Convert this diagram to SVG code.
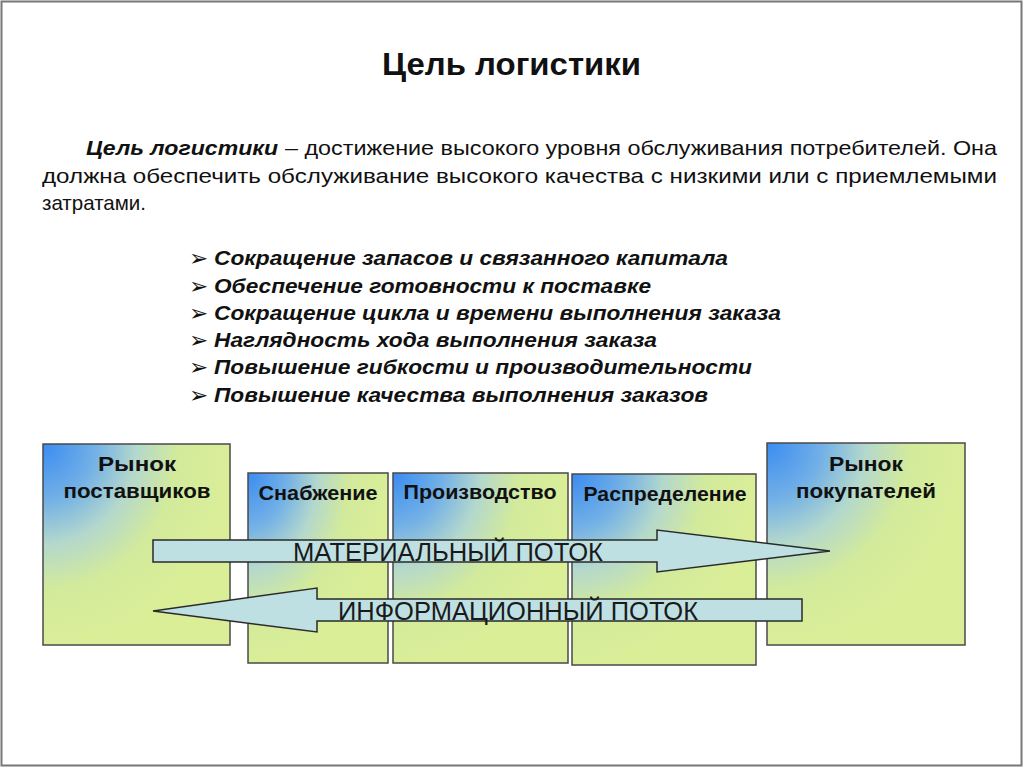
<svg xmlns="http://www.w3.org/2000/svg" width="1024" height="768" viewBox="0 0 1024 768">
<defs>
<radialGradient id="g" cx="0" cy="0" r="1" fx="0" fy="0" gradientUnits="objectBoundingBox">
<stop offset="0" stop-color="#3a8cf2"/>
<stop offset="0.28" stop-color="#72b0e6"/>
<stop offset="0.5" stop-color="#b4d8cc"/>
<stop offset="0.72" stop-color="#d2ea9c"/>
<stop offset="1" stop-color="#daee98"/>
</radialGradient>
<style>
.box{fill:url(#g);stroke:#4a4a4a;stroke-width:1.5}
.bl{font-family:"Liberation Sans",Arial,sans-serif;font-weight:bold;font-size:20.5px;fill:#111;text-anchor:middle}
.arr{fill:#bfe0e2;stroke:#2a2a2a;stroke-width:1.5;stroke-linejoin:miter}
.fl{font-family:"Liberation Sans",Arial,sans-serif;font-size:25px;fill:#1a1a1a}
.p{font-family:"Liberation Sans",Arial,sans-serif;font-size:21px;fill:#111}
.bu{font-family:"Liberation Sans",Arial,sans-serif;font-size:20px;font-weight:bold;font-style:italic;fill:#111}
.mk{font-family:"DejaVu Sans",sans-serif;font-size:23px;fill:#111}
</style>
</defs>
<rect x="1.5" y="1.5" width="1020" height="764" fill="#fff" stroke="#777" stroke-width="2"/>
<text x="382" y="75" font-family="'Liberation Sans',Arial,sans-serif" font-weight="bold" font-size="32" fill="#111" textLength="259" lengthAdjust="spacingAndGlyphs">Цель логистики</text>
<g id="paragraph">
<text class="p" x="86" y="155" font-weight="bold" font-style="italic" textLength="192" lengthAdjust="spacingAndGlyphs">Цель логистики</text>
<text class="p" x="285" y="155" textLength="712" lengthAdjust="spacingAndGlyphs">– достижение высокого уровня обслуживания потребителей. Она</text>
<text class="p" x="42" y="183" textLength="955" lengthAdjust="spacingAndGlyphs">должна обеспечить обслуживание высокого качества с низкими или с приемлемыми</text>
<text class="p" x="42" y="210" textLength="104" lengthAdjust="spacingAndGlyphs">затратами.</text>
</g>
<g id="bullets">
<text class="mk" x="189" y="266">➢</text>
<text class="bu" x="214" y="265" textLength="514" lengthAdjust="spacingAndGlyphs">Сокращение запасов и связанного капитала</text>
<text class="mk" x="189" y="294">➢</text>
<text class="bu" x="214" y="293" textLength="437" lengthAdjust="spacingAndGlyphs">Обеспечение готовности к поставке</text>
<text class="mk" x="189" y="321">➢</text>
<text class="bu" x="214" y="320" textLength="567" lengthAdjust="spacingAndGlyphs">Сокращение цикла и времени выполнения заказа</text>
<text class="mk" x="189" y="348">➢</text>
<text class="bu" x="214" y="347" textLength="443" lengthAdjust="spacingAndGlyphs">Наглядность хода выполнения заказа</text>
<text class="mk" x="189" y="375">➢</text>
<text class="bu" x="214" y="374" textLength="538" lengthAdjust="spacingAndGlyphs">Повышение гибкости и производительности</text>
<text class="mk" x="189" y="403">➢</text>
<text class="bu" x="214" y="402" textLength="494" lengthAdjust="spacingAndGlyphs">Повышение качества выполнения заказов</text>
</g>
<g id="supplier-market">
<rect class="box" x="43" y="444" width="187" height="201"/>
<text class="bl" x="137" y="471" textLength="78" lengthAdjust="spacingAndGlyphs">Рынок</text>
<text class="bl" x="137" y="498" textLength="147" lengthAdjust="spacingAndGlyphs">поставщиков</text>
</g>
<g id="supply">
<rect class="box" x="248" y="473" width="140" height="190"/>
<text class="bl" x="318" y="500" textLength="119" lengthAdjust="spacingAndGlyphs">Снабжение</text>
</g>
<g id="production">
<rect class="box" x="393" y="473" width="175" height="190"/>
<text class="bl" x="480" y="499" textLength="153" lengthAdjust="spacingAndGlyphs">Производство</text>
</g>
<g id="distribution">
<rect class="box" x="572" y="474" width="184" height="191"/>
<text class="bl" x="665" y="501" textLength="163" lengthAdjust="spacingAndGlyphs">Распределение</text>
</g>
<g id="customer-market">
<rect class="box" x="767" y="443" width="198" height="202"/>
<text class="bl" x="866" y="471" textLength="74" lengthAdjust="spacingAndGlyphs">Рынок</text>
<text class="bl" x="866" y="498" textLength="140" lengthAdjust="spacingAndGlyphs">покупателей</text>
</g>
<g id="connectors">
<g id="material-flow">
<polygon class="arr" points="153,540 657,540 657,530 830,551 657,572 657,562 153,562"/>
<text class="fl" x="293" y="561" textLength="310" lengthAdjust="spacingAndGlyphs">МАТЕРИАЛЬНЫЙ ПОТОК</text>
</g>
<g id="information-flow">
<polygon class="arr" points="802,599 317,599 317,588 153,611 317,632 317,621 802,621"/>
<text class="fl" x="338" y="620" textLength="360" lengthAdjust="spacingAndGlyphs">ИНФОРМАЦИОННЫЙ ПОТОК</text>
</g>
</g>
</svg>
